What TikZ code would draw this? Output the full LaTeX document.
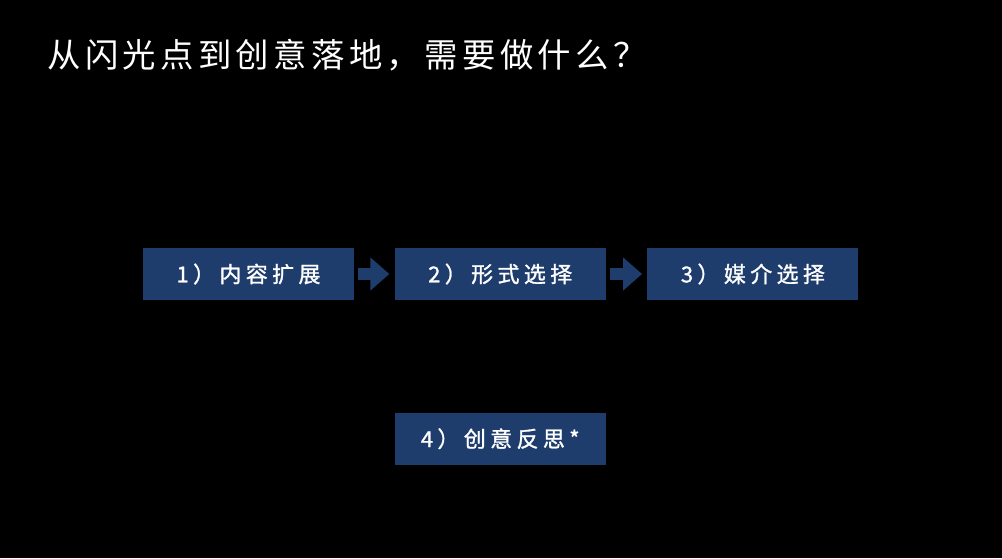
\documentclass[tikz,border=0pt]{standalone}
\usepackage{fontspec}
\usepackage{xcolor}
\usepackage{tikz}
\usetikzlibrary{arrows.meta, positioning}
\newfontfamily\cjkbox[FakeBold=1.2, LetterSpace=20]{Noto Sans CJK SC}
\newfontfamily\cjktitle[LetterSpace=13]{Noto Sans CJK SC}
\definecolor{stepblue}{HTML}{1F3D6C}
\tikzset{
	stepbox/.style={fill=stepblue, minimum height=1.04cm, minimum width=4.22cm, inner sep=0pt, text=white, font=\cjkbox\fontsize{12.5pt}{14pt}\selectfont},
	flowarr/.style={stepblue, line width=0.24cm, -{Triangle[length=0.38cm, width=0.64cm]}},
}

\begin{document}
\begin{tikzpicture}[node distance=0.8cm]
		% background
		\fill[black] (0,0) rectangle (20.04,-11.16);
		\useasboundingbox (0,0) rectangle (20.04,-11.16);

		% Title
		\node[anchor=west, inner sep=0pt, text=white, font=\cjktitle\fontsize{19pt}{22pt}\selectfont] (title) at (0.94,-1.1) {从闪光点到创意落地，需要做什么？};

		% Steps
		\node[stepbox] (expand) at (4.97,-5.48) {1）内容扩展};
		\node[stepbox, right=0.8cm of expand] (form) {2）形式选择};
		\node[stepbox, right=0.82cm of form] (media) {3）媒介选择};
		\node[stepbox, below=2.24cm of form] (reflect) {4）创意反思*};

		% Arrows
		\draw[flowarr] ([xshift=0.08cm]expand.east) -- ([xshift=-0.1cm]form.west);
		\draw[flowarr] ([xshift=0.08cm]form.east) -- ([xshift=-0.1cm]media.west);
	\end{tikzpicture}
\end{document}
